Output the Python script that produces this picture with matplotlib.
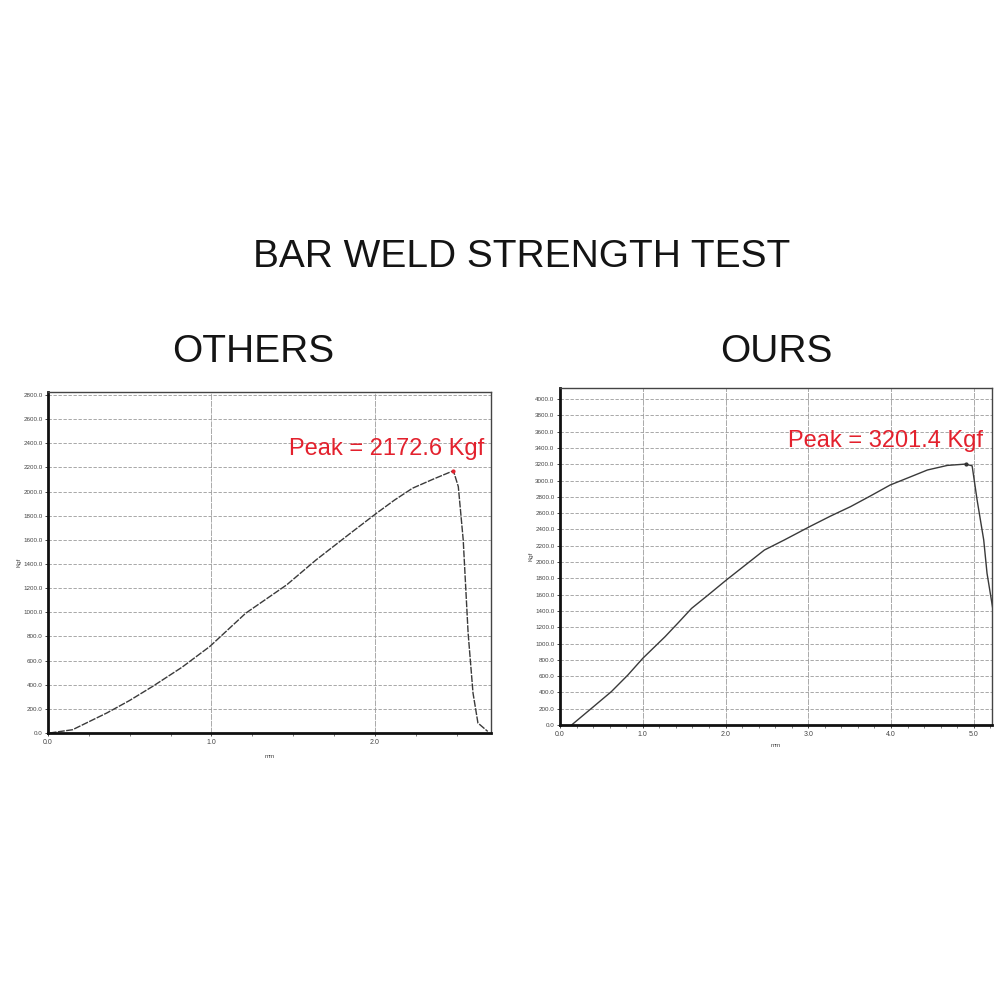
import matplotlib
matplotlib.use("Agg")
import matplotlib.pyplot as plt
import numpy as np

plt.rcParams['font.family'] = ['Liberation Sans', 'DejaVu Sans']

# load vs displacement
others_mm = [0.01, 0.15, 0.36, 0.50, 0.64, 0.82, 0.99, 1.21, 1.46, 1.64, 1.85, 2.01,
             2.12, 2.23, 2.36, 2.48,
             2.51, 2.54, 2.57, 2.60, 2.63, 2.69]
others_kgf = [0, 27, 166, 270, 386, 545, 717, 993, 1227, 1434, 1655, 1821,
              1930, 2028, 2105, 2172.6,
              2041, 1600, 828, 331, 83, 13]
ours_mm = [0.14, 0.38, 0.62, 0.82, 1.00, 1.27, 1.43, 1.59, 1.79, 2.01, 2.23, 2.47,
           2.71, 3.03, 3.27, 3.51, 3.75, 3.99, 4.24, 4.44, 4.68, 4.90,
           4.98, 5.04, 5.12, 5.16, 5.25]
ours_kgf = [0, 204, 409, 613, 818, 1084, 1256, 1431, 1595, 1779, 1955, 2147,
            2270, 2441, 2564, 2679, 2810, 2945, 3047, 3129, 3185, 3201.4,
            3180, 2761, 2270, 1861, 1300]

others_peak = 2172.6
ours_peak = 3201.4

others_yticks = np.arange(0, 2801, 200)
ours_yticks = np.arange(0, 4001, 200)
others_xticks = [0.0, 1.0, 2.0]
ours_xticks = [0.0, 1.0, 2.0, 3.0, 4.0, 5.0]

red = '#e3212d'
line_c = '#3a3a3a'

fig = plt.figure(figsize=(10, 10), dpi=100)
fig.patch.set_facecolor('white')

fig.text(0.522, 0.743, 'BAR WELD STRENGTH TEST', ha='center', va='center',
         fontsize=28, color='#141414')
fig.text(0.253, 0.648, 'OTHERS', ha='center', va='center', fontsize=28, color='#141414')
fig.text(0.776, 0.648, 'OURS', ha='center', va='center', fontsize=28, color='#141414')


def setup(ax, yticks, xticks, xmax, ymax, minor_step):
    ax.set_xlim(0, xmax)
    ax.set_ylim(0, ymax)
    ax.set_yticks(yticks)
    ax.set_yticklabels(['%.1f' % v for v in yticks], fontsize=4.5, color='#444444')
    ax.set_xticks(xticks)
    ax.set_xticklabels(['%.1f' % v for v in xticks], fontsize=5, color='#555555')
    ax.set_xticks(np.arange(0, xmax, minor_step), minor=True)
    ax.tick_params(axis='both', length=2.5, width=0.7, pad=1.5, colors='#444444')
    ax.tick_params(axis='x', which='minor', length=2, width=0.6, colors='#666666')
    ax.grid(axis='y', color='#9a9a9a', linestyle=(0, (4, 2)), linewidth=0.6)
    ax.grid(axis='x', color='#aaaaaa', linestyle=(0, (6, 1)), linewidth=0.7)
    for s in ['top', 'right']:
        ax.spines[s].set_linewidth(1.0)
        ax.spines[s].set_color('#444444')
    for s in ['left', 'bottom']:
        ax.spines[s].set_linewidth(2.0)
        ax.spines[s].set_color('#111111')
    ax.set_ylabel('Kgf', fontsize=4.5, color='#444444', labelpad=1)


ax1 = fig.add_axes([0.048, 0.267, 0.443, 0.341])
setup(ax1, others_yticks, others_xticks, 2.71, 2825, 0.25)
ax1.plot(others_mm, others_kgf, color=line_c, linewidth=1.0, linestyle=(0, (5, 1)))
ax1.plot([others_mm[15]], [others_peak], marker='o', markersize=2, color=red)
ax1.text(2.67, others_peak + 90, 'Peak = %.1f Kgf' % others_peak, color=red,
         fontsize=17, ha='right', va='bottom')
ax1.set_xlabel('mm', fontsize=4.5, color='#444444', labelpad=6)

ax2 = fig.add_axes([0.560, 0.275, 0.432, 0.337])
setup(ax2, ours_yticks, ours_xticks, 5.22, 4135, 0.2)
ax2.plot(ours_mm, ours_kgf, color=line_c, linewidth=1.0)
ax2.plot([ours_mm[21]], [ours_peak], marker='o', markersize=2, color='#333333')
ax2.text(5.11, ours_peak + 150, 'Peak = %.1f Kgf' % ours_peak, color=red,
         fontsize=17, ha='right', va='bottom')
ax2.set_xlabel('mm', fontsize=4.5, color='#444444', labelpad=4)

fig.savefig('out.png', dpi=100, facecolor='white')
